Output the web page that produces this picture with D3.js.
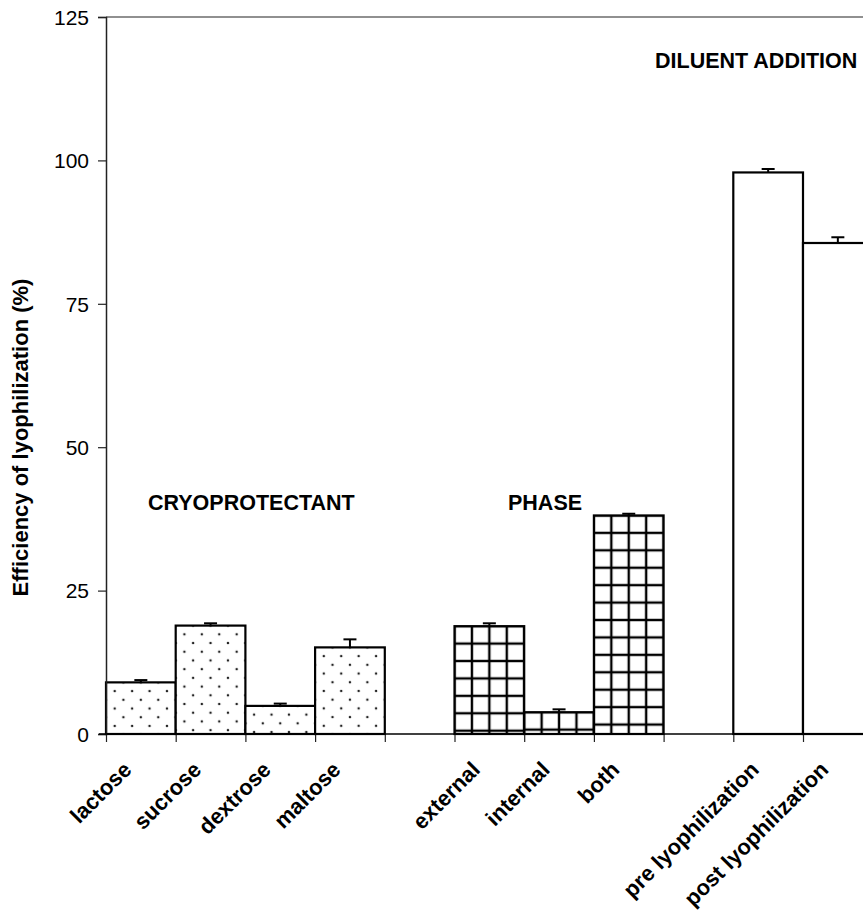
<!DOCTYPE html>
<html>
<head>
<meta charset="utf-8">
<script src="https://cdn.jsdelivr.net/npm/d3@7"></script>
<style>
  html, body { margin: 0; padding: 0; background: #fff; }
  svg { display: block; font-family: "Liberation Sans", Arial, sans-serif; }
</style>
</head>
<body>
<svg id="chart" width="863" height="911"></svg>
<script>
// Category slots along the x axis; empty strings are spacer slots between groups
const categories = ["lactose", "sucrose", "dextrose", "maltose", "",
                    "external", "internal", "both", "",
                    "pre lyophilization", "post lyophilization"];
// Mean efficiency (%) and the upper end of the error bar for each slot
const values    = [9.0, 18.9, 4.9, 15.1, null, 18.8, 3.8, 38.1, null, 97.9, 85.6];
const errorTops = [9.4, 19.3, 5.3, 16.5, null, 19.3, 4.3, 38.4, null, 98.5, 86.6];
// Fill style for each slot
const fills = ["dots", "dots", "dots", "dots", null, "grid", "grid", "grid", null, "plain", "plain"];
// Group captions
const groupLabels = ["CRYOPROTECTANT", "PHASE", "DILUENT ADDITION"];
const yTicks = [0, 25, 50, 75, 100, 125];
const yTitle = "Efficiency of lyophilization (%)";

const svg = d3.select("#chart");
const plotLeft = 106, plotTop = 17, plotBottom = 734, slotW = 69.7;
const plotRight = plotLeft + slotW * categories.length;

const x = d3.scaleBand().domain(d3.range(categories.length)).range([plotLeft, plotRight]).padding(0);
const xEdge = d3.scaleLinear().domain([0, categories.length]).range([plotLeft, plotRight]);
const y = d3.scaleLinear().domain([0, 125]).range([plotBottom, plotTop]);

const defs = svg.append("defs");
const cell = x.bandwidth() / 4;

// One pattern per bar, anchored at the bar's top-left corner
categories.forEach((c, i) => {
  if (values[i] == null || fills[i] === "plain") return;
  const bx = x(i), by = y(values[i]);
  const p = defs.append("pattern")
    .attr("id", "fill" + i)
    .attr("patternUnits", "userSpaceOnUse")
    .attr("x", bx).attr("y", by)
    .attr("width", cell).attr("height", cell);
  p.append("rect").attr("width", cell).attr("height", cell).attr("fill", "#fff");
  if (fills[i] === "dots") {
    [[0, 0], [cell / 2, cell / 2], [cell, 0], [0, cell], [cell, cell]].forEach(([cx, cy]) => {
      p.append("circle").attr("cx", cx).attr("cy", cy).attr("r", 1.25).attr("fill", "#222");
    });
  } else {
    // lines on both cell edges so the full stroke width survives clipping
    [0, cell].forEach(v => {
      p.append("line").attr("x1", 0).attr("x2", cell).attr("y1", v).attr("y2", v)
        .attr("stroke", "#000").attr("stroke-width", 2.4);
      p.append("line").attr("x1", v).attr("x2", v).attr("y1", 0).attr("y2", cell)
        .attr("stroke", "#000").attr("stroke-width", 2.4);
    });
  }
});

// Top frame line
svg.append("line")
  .attr("x1", plotLeft).attr("x2", 863)
  .attr("y1", y(125)).attr("y2", y(125))
  .attr("stroke", "#222").attr("stroke-width", 1.2);

// Bars
const barData = categories.map((c, i) => ({ i, v: values[i], e: errorTops[i], f: fills[i] }))
  .filter(d => d.v != null);

svg.append("g").selectAll("rect")
  .data(barData)
  .join("rect")
  .attr("x", d => x(d.i))
  .attr("y", d => y(d.v))
  .attr("width", x.bandwidth())
  .attr("height", d => y(0) - y(d.v))
  .attr("fill", d => d.f === "plain" ? "#fff" : `url(#fill${d.i})`)
  .attr("stroke", "#000")
  .attr("stroke-width", 2.2);

// Error bars (upper half only)
const eb = svg.append("g").attr("stroke", "#000").attr("stroke-width", 2);
eb.selectAll("line.v").data(barData).join("line").attr("class", "v")
  .attr("x1", d => x(d.i) + x.bandwidth() / 2).attr("x2", d => x(d.i) + x.bandwidth() / 2)
  .attr("y1", d => y(d.v)).attr("y2", d => y(d.e));
eb.selectAll("line.c").data(barData).join("line").attr("class", "c")
  .attr("x1", d => x(d.i) + x.bandwidth() / 2 - 6.5).attr("x2", d => x(d.i) + x.bandwidth() / 2 + 6.5)
  .attr("y1", d => y(d.e)).attr("y2", d => y(d.e));

// Y axis
const yAxis = svg.append("g")
  .attr("transform", `translate(${plotLeft},0)`)
  .call(d3.axisLeft(y).tickValues(yTicks).tickSize(8).tickPadding(9));
yAxis.select(".domain").attr("stroke", "#222").attr("stroke-width", 1.5);
yAxis.selectAll(".tick line").attr("stroke", "#222").attr("stroke-width", 1.2);
yAxis.selectAll(".tick text")
  .attr("font-size", 21).attr("fill", "#000")
  .attr("font-family", "Liberation Sans, Arial, sans-serif")
  .attr("dy", "0.35em");

// X axis: ticks sit on the slot boundaries
const xAxis = svg.append("g")
  .attr("transform", `translate(0,${plotBottom})`)
  .call(d3.axisBottom(xEdge).tickValues(d3.range(categories.length + 1)).tickSize(8).tickFormat(""));
xAxis.select(".domain").remove();
xAxis.selectAll(".tick line").attr("stroke", "#222").attr("stroke-width", 1.2);
svg.append("line")
  .attr("x1", plotLeft - 7).attr("x2", 863)
  .attr("y1", plotBottom).attr("y2", plotBottom)
  .attr("stroke", "#000").attr("stroke-width", 1.5);

// Category labels, rotated
svg.append("g").selectAll("text")
  .data(categories.map((c, i) => ({ c, i })).filter(d => d.c !== ""))
  .join("text")
  .attr("transform", d => `translate(${x(d.i) + x.bandwidth() / 2 - 8},${plotBottom + 37}) rotate(-45)`)
  .attr("text-anchor", "end")
  .attr("font-size", 22)
  .attr("font-weight", "bold")
  .attr("fill", "#000")
  .text(d => d.c);

// Group captions
const groupPos = [[148, 510], [508, 510], [655, 68]];
svg.append("g").selectAll("text")
  .data(groupLabels)
  .join("text")
  .attr("x", (d, i) => groupPos[i][0])
  .attr("y", (d, i) => groupPos[i][1])
  .attr("font-size", 21.5)
  .attr("font-weight", "bold")
  .attr("fill", "#000")
  .text(d => d);

// Y axis title
svg.append("text")
  .attr("transform", `translate(28,${(278 + 597) / 2}) rotate(-90)`)
  .attr("text-anchor", "middle")
  .attr("font-size", 22)
  .attr("font-weight", "bold")
  .attr("fill", "#000")
  .text(yTitle);
</script>
</body>
</html>
